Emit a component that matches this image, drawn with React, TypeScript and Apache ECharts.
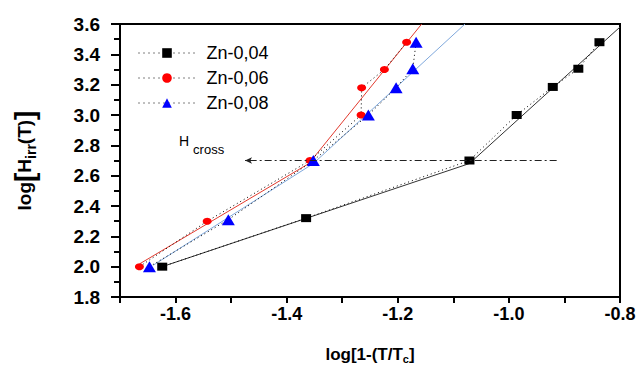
import React, { useEffect, useRef } from "react";
import * as echarts from "echarts";

const seriesNames = ["Zn-0,04", "Zn-0,06", "Zn-0,08"];
const zn04X = [-1.624, -1.365, -1.071, -0.986, -0.921, -0.875, -0.837];
const zn04Y = [2.0, 2.32, 2.7, 3.0, 3.185, 3.305, 3.48];
const zn06X = [-1.665, -1.543, -1.358, -1.266, -1.265, -1.224, -1.184];
const zn06Y = [2.0, 2.3, 2.7, 3.0, 3.18, 3.3, 3.48];
const zn08X = [-1.647, -1.505, -1.352, -1.253, -1.203, -1.173, -1.167];
const zn08Y = [2.0, 2.31, 2.7, 3.0, 3.18, 3.305, 3.48];

const fit04X = [-1.624, -1.071, -0.8];
const fit04Y = [2.0, 2.68, 3.58];
const fit06X = [-1.664, -1.36, -1.157];
const fit06Y = [2.02, 2.68, 3.6];
const fit08X = [-1.64, -1.352, -1.079];
const fit08Y = [2.01, 2.68, 3.6];

const hcrossX = [-0.914, -1.475];
const hcrossY = 2.7;

const xMin = -1.7;
const xMax = -0.8;
const yMin = 1.8;
const yMax = 3.6;

const zip = (xs: number[], ys: number[]) => xs.map((x, i) => [x, ys[i]]);

const FONT = "Liberation Sans, Arial, sans-serif";

export default function App() {
  const ref = useRef<HTMLDivElement>(null);
  useEffect(() => {
    document.body.style.margin = "0";
    if (!ref.current) return;
    const chart = echarts.init(ref.current, undefined, { renderer: "svg" });
    const dotted = { color: "#000", width: 1, type: [1, 3] as any };
    chart.setOption({
      animation: false,
      backgroundColor: "#fff",
      grid: {
        left: 120,
        right: 24,
        top: 24,
        bottom: 69,
        show: true,
        borderColor: "#000",
        borderWidth: 2,
      },
      legend: {
        orient: "vertical",
        left: 133,
        top: 39,
        itemWidth: 57,
        itemHeight: 12,
        itemGap: 7,
        data: seriesNames,
        lineStyle: { type: [1, 4] as any, color: "#000", width: 1 },
        textStyle: {
          fontFamily: FONT,
          fontSize: 18,
          color: "#000",
          padding: [0, 0, 0, 6],
        },
      },
      xAxis: {
        type: "value",
        min: xMin,
        max: xMax,
        interval: 0.1,
        splitLine: { show: false },
        axisLine: { onZero: false, lineStyle: { color: "#000", width: 2 } },
        axisTick: { length: 6, lineStyle: { color: "#000", width: 2 } },
        axisLabel: {
          margin: 8,
          fontFamily: FONT,
          fontSize: 18,
          fontWeight: "bold",
          color: "#000",
          formatter: (v: number) => {
            const k = Math.round(v * 10);
            return k % 2 === 0 ? v.toFixed(1) : "";
          },
        },
        name: "{a|log[1-(T/T}{s|c}{a|]}",
        nameLocation: "middle",
        nameGap: 47,
        nameTextStyle: {
          rich: {
            a: { fontFamily: FONT, fontSize: 17, fontWeight: "bold", color: "#000", lineHeight: 20, verticalAlign: "middle" },
            s: { fontFamily: FONT, fontSize: 11, fontWeight: "bold", color: "#000", lineHeight: 11, verticalAlign: "bottom" },
          },
        },
      },
      yAxis: {
        type: "value",
        min: yMin,
        max: yMax,
        interval: 0.2,
        splitLine: { show: false },
        axisLine: { onZero: false, lineStyle: { color: "#000", width: 2 } },
        axisTick: { length: 9, lineStyle: { color: "#000", width: 2 } },
        minorTick: { show: true, splitNumber: 2, length: 6, lineStyle: { color: "#000", width: 2 } },
        minorSplitLine: { show: false },
        axisLabel: {
          margin: 20,
          fontFamily: FONT,
          fontSize: 19,
          fontWeight: "bold",
          color: "#000",
          formatter: (v: number) => v.toFixed(1),
        },
        name: "{a|log}{b|[}{a|H}{s|irr}{a|(T)}{b|]}",
        nameLocation: "middle",
        nameGap: 82,
        nameRotate: 90,
        nameTextStyle: {
          rich: {
            a: { fontFamily: FONT, fontSize: 19, fontWeight: "bold", color: "#000", lineHeight: 28, verticalAlign: "middle" },
            b: { fontFamily: FONT, fontSize: 28, fontWeight: "bold", color: "#000", lineHeight: 28, verticalAlign: "middle" },
            s: { fontFamily: FONT, fontSize: 14, fontWeight: "bold", color: "#000", lineHeight: 14, verticalAlign: "bottom" },
          },
        },
      },
      graphic: [
        {
          type: "text",
          left: 179,
          top: 134,
          style: {
            text: "{h|H}{s|cross}",
            fill: "#000",
            rich: {
              h: { fontFamily: FONT, fontSize: 14, fill: "#000", lineHeight: 16, verticalAlign: "top" },
              s: { fontFamily: FONT, fontSize: 13, fill: "#000", lineHeight: 22, verticalAlign: "bottom", padding: [0, 0, 0, 4] },
            },
          },
        },
      ],
      series: [
        {
          type: "line",
          name: "fit04",
          data: zip(fit04X, fit04Y),
          symbol: "none",
          lineStyle: { color: "#333", width: 1 },
          z: 1,
          markLine: {
            silent: true,
            symbol: ["none", "arrow"],
            symbolSize: [5, 7],
            label: { show: false },
            lineStyle: { color: "#222", width: 1, type: [7, 3, 2, 3] },
            data: [[{ coord: [hcrossX[0], hcrossY] }, { coord: [hcrossX[1], hcrossY] }]],
          },
        },
        {
          type: "line",
          name: "fit06",
          data: zip(fit06X, fit06Y),
          symbol: "none",
          lineStyle: { color: "#e23a2e", width: 1 },
          z: 1,
        },
        {
          type: "line",
          name: "fit08",
          data: zip(fit08X, fit08Y),
          symbol: "none",
          lineStyle: { color: "#7fa8dc", width: 1 },
          z: 1,
        },
        {
          type: "line",
          name: seriesNames[0],
          data: zip(zn04X, zn04Y),
          symbol: "rect",
          symbolSize: [10, 8],
          itemStyle: { color: "#000" },
          lineStyle: dotted,
          z: 3,
        },
        {
          type: "line",
          name: seriesNames[1],
          data: zip(zn06X, zn06Y),
          symbol: "circle",
          symbolSize: [9, 7],
          itemStyle: { color: "#ff0000" },
          lineStyle: dotted,
          z: 3,
        },
        {
          type: "line",
          name: seriesNames[2],
          data: zip(zn08X, zn08Y),
          symbol: "triangle",
          symbolSize: [13, 11],
          itemStyle: { color: "#0000ff" },
          lineStyle: dotted,
          z: 4,
        },
      ],
    });
    return () => chart.dispose();
  }, []);
  return <div ref={ref} style={{ width: 644, height: 369 }} />;
}
